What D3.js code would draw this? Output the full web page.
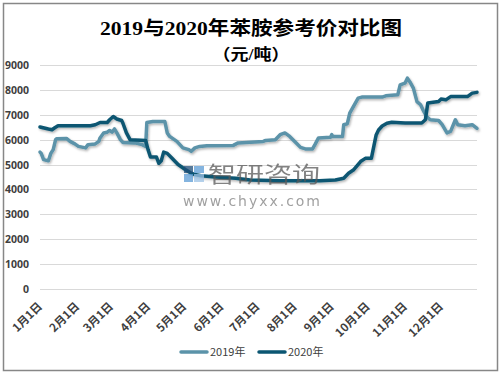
<!DOCTYPE html>
<html><head><meta charset="utf-8">
<script src="https://cdn.jsdelivr.net/npm/d3@7"></script>
<style>body{margin:0;background:#fff}svg{display:block}</style>
</head><body>
<script>
// ---- data ----
const monthLabels = ["1月1日","2月1日","3月1日","4月1日","5月1日","6月1日","7月1日","8月1日","9月1日","10月1日","11月1日","12月1日"];
const monthStartDays = [0,31,59,90,120,151,181,212,243,273,304,334];
const yTicks = [0,1000,2000,3000,4000,5000,6000,7000,8000,9000];
const seriesNames = ["2019年","2020年"];

const days2019 = [0,1,3,7,9,11,13,14,22,25,29,32,38,40,46,49,50,53,56,58,60,62,64,67,69,79,85,88,89,94,104,106,108,114,119,124,126,129,133,139,161,165,186,188,196,200,204,208,213,217,221,227,229,232,242,243,244,252,253,256,258,261,265,268,285,288,298,300,304,306,308,311,314,317,319,322,325,332,335,339,342,346,348,354,360,364];
const price2019 = [5500,5450,5200,5150,5450,5600,6000,6040,6050,5930,5830,5730,5670,5800,5830,5930,6070,6270,6300,6370,6300,6430,6270,6000,5890,5870,5800,5730,6690,6730,6730,6270,6130,5930,5670,5600,5530,5670,5730,5760,5770,5870,5930,5970,6000,6200,6270,6130,5890,5690,5630,5630,5800,6070,6100,6200,6130,6130,6600,6640,7070,7330,7670,7710,7710,7760,7800,8200,8270,8470,8330,8070,7530,7400,7200,6930,6800,6770,6600,6270,6330,6800,6600,6560,6600,6450];

const days2020 = [0,7,10,12,15,42,46,50,56,58,61,64,68,69,72,75,88,90,92,97,99,101,103,106,110,115,121,125,129,134,146,163,175,200,217,233,246,253,257,261,267,271,276,278,280,282,285,289,293,304,318,321,323,326,332,334,338,342,356,360,364];
const price2020 = [6510,6430,6400,6470,6560,6560,6600,6690,6690,6800,6930,6830,6770,6670,6270,6000,5970,5600,5300,5300,5050,5150,5500,5450,5250,5000,4800,4680,4600,4550,4500,4450,4380,4350,4350,4350,4380,4450,4650,4780,5120,5250,5250,5720,6190,6390,6550,6660,6700,6670,6670,6800,7470,7490,7530,7630,7600,7730,7730,7870,7900];

const colors = ["#5b93a9","#0b5672"];

// ---- layout ----
const W = 504, H = 378;
const svg = d3.select("body").append("svg").attr("width", W).attr("height", H);

const defs = svg.append("defs");
const f = defs.append("filter").attr("id","sh").attr("x","-10%").attr("y","-10%").attr("width","120%").attr("height","130%");
f.append("feDropShadow").attr("dx",1).attr("dy",1.5).attr("stdDeviation",1.2).attr("flood-color","#000").attr("flood-opacity",0.3);

svg.append("rect").attr("x",3.5).attr("y",3.5).attr("width",494).attr("height",367)
  .attr("fill","#fff").attr("stroke","#878787").attr("stroke-width",1.5);

const x = d3.scaleLinear().domain([0,364]).range([40,477]);
const y = d3.scaleLinear().domain([0,9000]).range([289,65]);

// title
svg.append("text").attr("x",251).attr("y",35).attr("text-anchor","middle")
  .attr("font-family","'Liberation Serif','DejaVu Serif','Noto Sans CJK SC',serif")
  .attr("font-weight","bold").attr("font-size",19).attr("fill","#000")
  .attr("textLength",302).attr("lengthAdjust","spacingAndGlyphs")
  .text("2019与2020年苯胺参考价对比图");
svg.append("text").attr("x",251).attr("y",60).attr("text-anchor","middle")
  .attr("font-family","'Liberation Serif','Noto Sans CJK SC',serif")
  .attr("font-weight","bold").attr("font-size",16).attr("fill","#000")
  .attr("textLength",77).attr("lengthAdjust","spacingAndGlyphs")
  .text("（元/吨）");

// grid
svg.append("g").selectAll("line").data(yTicks).join("line")
  .attr("x1",40).attr("x2",477)
  .attr("y1",d=>Math.round(y(d))+0.5).attr("y2",d=>Math.round(y(d))+0.5)
  .attr("stroke","#d9d9d9").attr("stroke-width",1);

// y labels
svg.append("g").selectAll("text").data(yTicks).join("text")
  .attr("x",29).attr("y",d=>y(d)+4).attr("text-anchor","end")
  .attr("font-family","'Noto Sans','Noto Sans CJK SC',sans-serif")
  .attr("font-weight","bold").attr("font-size",10.5).attr("fill","#404040")
  .text(d=>d);

// x labels
svg.append("g").selectAll("text").data(monthLabels).join("text")
  .attr("transform",(d,i)=>`translate(${x(monthStartDays[i])+3},307) rotate(-45)`)
  .attr("text-anchor","end")
  .attr("font-family","'Noto Sans CJK SC',sans-serif")
  .attr("font-weight","bold").attr("font-size",11.5).attr("fill","#404040")
  .text(d=>d);

// lines
const line = d3.line().x(d=>x(d[0])).y(d=>y(d[1]));
const s2019 = days2019.map((d,i)=>[d,price2019[i]]);
const s2020 = days2020.map((d,i)=>[d,price2020[i]]);
const g = svg.append("g").attr("filter","url(#sh)");
[s2019, s2020].forEach((s,i)=>{
  g.append("path").datum(s).attr("d",line).attr("fill","none")
   .attr("stroke",colors[i]).attr("stroke-width",3.5)
   .attr("stroke-linejoin","round").attr("stroke-linecap","round");
});

// watermark
const wm = svg.append("g").attr("opacity",0.75);
wm.append("rect").attr("x",184).attr("y",166).attr("width",9).attr("height",7).attr("fill","#1f4e79");
wm.append("rect").attr("x",194).attr("y",166).attr("width",10).attr("height",7).attr("fill","#5b9bd5");
wm.append("rect").attr("x",184).attr("y",174).attr("width",9).attr("height",8).attr("fill","#5b9bd5");
wm.append("rect").attr("x",194).attr("y",174).attr("width",10).attr("height",8).attr("fill","#9dc3e6");
wm.append("text").attr("x",208).attr("y",182).attr("font-family","'Noto Sans CJK SC',sans-serif")
  .attr("font-size",22).attr("fill","#595959").attr("textLength",112).attr("lengthAdjust","spacingAndGlyphs")
  .text("智研咨询");
wm.append("text").attr("x",183).attr("y",206).attr("font-family","'DejaVu Sans',sans-serif")
  .attr("font-size",14).attr("fill","#808080").attr("textLength",137).attr("lengthAdjust","spacing")
  .text("www.chyxx.com");

// legend
const legX = [180, 258];
seriesNames.forEach((n,i)=>{
  svg.append("line").attr("x1",legX[i]+1).attr("x2",legX[i]+27).attr("y1",352).attr("y2",352)
    .attr("stroke",colors[i]).attr("stroke-width",3.5).attr("stroke-linecap","round");
  svg.append("text").attr("x",legX[i]+30).attr("y",356)
    .attr("font-family","'Noto Sans CJK SC',sans-serif").attr("font-size",11).attr("fill","#404040")
    .text(n);
});
</script>
</body></html>
